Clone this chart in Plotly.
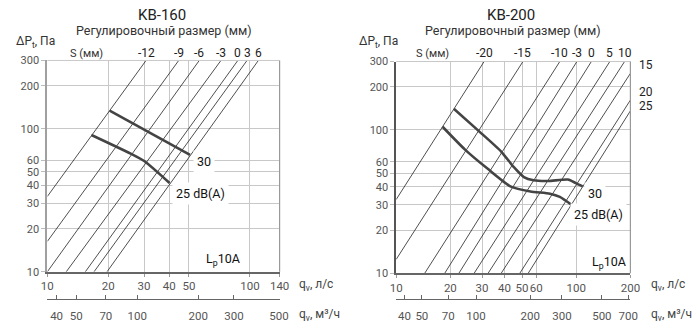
import math
import plotly.graph_objects as go

W, H = 700, 329
FONT = "Roboto"

# ---------------- KB-160 ----------------
kb160_q_ticks = [10, 20, 30, 40, 50, 100, 140]
kb160_m3h_ticks = [40, 50, 70, 100, 200, 300, 500]
kb160_s_labels = ["-12", "-9", "-6", "-3", "0", "3", "6"]
kb160_line_q0 = [10, 10, 10, 12.4, 15.4, 17.0, 19.7]
kb160_line_p0 = [33.6, 16.3, 10, 10, 10, 10, 10]
kb160_line_q1 = [30.7, 44.5, 56.2, 71.9, 87.1, 96.7, 110]
kb160_line_p1 = [300, 300, 300, 300, 300, 300, 300]
kb160_30_q = [20.3, 50.6]
kb160_30_p = [133.7, 65.7]
kb160_25_q = [16.5, 26.5, 30.2, 40.1]
kb160_25_p = [90.4, 65.7, 59.2, 41.7]

p_ticks = [10, 20, 30, 40, 50, 60, 100, 200, 300]

# ---------------- KB-200 ----------------
kb200_q_ticks = [10, 20, 30, 40, 50, 60, 100, 200]
kb200_m3h_ticks = [40, 50, 70, 100, 200, 300, 500, 700]
kb200_s_labels = ["-20", "-15", "-10", "-3", "0", "5", "10"]
kb200_side_labels = ["15", "20", "25"]
kb200_line_q0 = [10, 10, 14.4, 18.6, 22.3, 27.1, 32.4, 38.3, 48.6, 54.1]
kb200_line_p0 = [32.7, 12.5, 10, 10, 10, 10, 10, 10, 10, 10]
kb200_line_q1 = [30.8, 50.6, 81.1, 100.9, 121.4, 153.8, 185.7, 200, 200, 200]
kb200_line_p1 = [300, 300, 300, 300, 300, 300, 300, 248, 161.5, 135.8]
kb200_30_q = [20.9, 28.6, 38.3, 45.2, 51.2, 58.0, 70.0, 89.9, 99.4, 108.5]
kb200_30_p = [140.5, 98.9, 70.7, 54.7, 46.9, 44.5, 44.0, 45.1, 42.6, 40.4]
kb200_25_q = [18.1, 24.2, 32.4, 43.4, 55.7, 71.5, 81.1, 93.7]
kb200_25_p = [105.2, 72.6, 53.3, 40.2, 37.2, 35.9, 34.1, 30.2]

M3H_PER_LS = 3.6


def px(x, y):
    return x / W, 1 - y / H


L = dict(x0=42.3, x1=280.0, y0=56.7, y1=276.7)
R = dict(x0=399.3, x1=639.0, y0=57.8, y1=278.3)

fig = go.Figure()

line_style = dict(color="#222222", width=0.8)
curve_style = dict(color="#444444", width=2.6, shape="spline", smoothing=0.6)

for q0, p0, q1, p1 in zip(kb160_line_q0, kb160_line_p0, kb160_line_q1, kb160_line_p1):
    fig.add_trace(go.Scatter(x=[q0, q1], y=[p0, p1], mode="lines", line=line_style,
                             xaxis="x", yaxis="y", showlegend=False, hoverinfo="skip"))
fig.add_trace(go.Scatter(x=kb160_30_q, y=kb160_30_p, mode="lines", line=curve_style,
                         xaxis="x", yaxis="y", showlegend=False))
fig.add_trace(go.Scatter(x=kb160_25_q, y=kb160_25_p, mode="lines", line=curve_style,
                         xaxis="x", yaxis="y", showlegend=False))

for q0, p0, q1, p1 in zip(kb200_line_q0, kb200_line_p0, kb200_line_q1, kb200_line_p1):
    fig.add_trace(go.Scatter(x=[q0, q1], y=[p0, p1], mode="lines", line=line_style,
                             xaxis="x2", yaxis="y2", showlegend=False, hoverinfo="skip"))
fig.add_trace(go.Scatter(x=kb200_30_q, y=kb200_30_p, mode="lines", line=curve_style,
                         xaxis="x2", yaxis="y2", showlegend=False))
fig.add_trace(go.Scatter(x=kb200_25_q, y=kb200_25_p, mode="lines", line=curve_style,
                         xaxis="x2", yaxis="y2", showlegend=False))

fig.add_trace(go.Scatter(x=kb160_m3h_ticks, y=[None] * len(kb160_m3h_ticks), mode="lines",
                         xaxis="x3", yaxis="y", showlegend=False, hoverinfo="skip"))
fig.add_trace(go.Scatter(x=kb200_m3h_ticks, y=[None] * len(kb200_m3h_ticks), mode="lines",
                         xaxis="x4", yaxis="y2", showlegend=False, hoverinfo="skip"))

tickfont = dict(family=FONT, size=11.5, color="#555555")
ytickfont = dict(family=FONT, size=11, color="#555555")
grid = "#c8c8c8"


def xax(box, ticks, qmax):
    return dict(type="log", domain=[box["x0"] / W, box["x1"] / W],
                range=[1, math.log10(qmax)], tickvals=ticks, ticktext=[str(t) for t in ticks],
                tickangle=0,
                showgrid=True, gridcolor=grid, gridwidth=1,
                showline=True, linecolor="#666666", linewidth=1.5,
                ticks="outside", ticklen=3, tickcolor="#999999",
                tickfont=tickfont, fixedrange=True)


def yax(box, lc, lw):
    return dict(type="log", domain=[1 - box["y1"] / H, 1 - box["y0"] / H],
                range=[1, math.log10(300)], tickvals=p_ticks, ticktext=[str(t) for t in p_ticks],
                tickangle=0,
                showgrid=True, gridcolor=grid, gridwidth=1,
                showline=True, linecolor=lc, linewidth=lw,
                ticks="outside", ticklen=4, tickcolor="#bbbbbb",
                tickfont=ytickfont, fixedrange=True)


def x2ax(over, ticks, qmax):
    return dict(type="log", overlaying=over, anchor="free", position=1 - 305 / H, side="bottom",
                range=[math.log10(10 * M3H_PER_LS), math.log10(qmax * M3H_PER_LS)],
                tickvals=ticks, ticktext=[str(t) for t in ticks], showgrid=False, tickangle=0,
                showline=True, linecolor="#666666", linewidth=1.2,
                ticks="inside", ticklen=4, tickcolor="#666666",
                ticklabelstandoff=6, tickfont=tickfont, fixedrange=True)


fig.update_layout(
    width=W, height=H, margin=dict(l=0, r=0, t=0, b=0),
    paper_bgcolor="white", plot_bgcolor="white",
    xaxis=dict(anchor="y", **xax(L, kb160_q_ticks, 140)),
    yaxis=dict(anchor="x", **yax(L, "#a0a0a0", 2)),
    xaxis2=dict(anchor="y2", **xax(R, kb200_q_ticks, 200)),
    yaxis2=dict(anchor="x2", **yax(R, "#555555", 1.5)),
    xaxis3=x2ax("x", kb160_m3h_ticks, 140),
    xaxis4=x2ax("x2", kb200_m3h_ticks, 200),
    font=dict(family=FONT),
)

shapes = []
for xr, yr in (("x domain", "y domain"), ("x2 domain", "y2 domain")):
    shapes.append(dict(type="line", xref=xr, yref=yr, x0=0, x1=1, y0=1, y1=1,
                       line=dict(color=grid, width=1)))
    shapes.append(dict(type="line", xref=xr, yref=yr, x0=1, x1=1, y0=0, y1=1,
                       line=dict(color="#999999", width=1.2)))
fig.update_layout(shapes=shapes)

ann = []


def text(x, y, t, size=12, color="#222222", xanchor="center", **kw):
    xx, yy = px(x, y)
    ann.append(dict(x=xx, y=yy, xref="paper", yref="paper", text=t, showarrow=False,
                    xanchor=xanchor, yanchor="middle",
                    font=dict(family=FONT, size=size, color=color), **kw))


def dtext(xref, yref, q, p, t, size=12.5, **kw):
    ann.append(dict(x=math.log10(q), y=math.log10(p), xref=xref, yref=yref, text=t,
                    showarrow=False, xanchor="center", yanchor="middle",
                    font=dict(family=FONT, size=size, color="#111111"), **kw))


for cx, name in [(160, "KB-160"), (517, "KB-200")]:
    text(cx, 9, name, size=15, color="#222222")
    text(cx + 2, 26, "Регулировочный размер (мм)", size=12.5, color="#333333")

text(8, 38, "ΔP<sub>t</sub>, Па", size=12, color="#333333", xanchor="left")
text(359, 38, "ΔP<sub>t</sub>, Па", size=12, color="#333333", xanchor="left")
text(82.5, 49, "S (мм)", size=11, color="#333333")
text(436.5, 49, "S (мм)", size=11, color="#333333")

for q, lab in zip(kb160_line_q1, kb160_s_labels):
    ann.append(dict(x=math.log10(q), y=1 - 49 / H, xref="x", yref="paper", text=lab,
                    showarrow=False, xanchor="center", yanchor="middle",
                    font=dict(family=FONT, size=12, color="#222222")))
for q, lab in zip(kb200_line_q1[:7], kb200_s_labels):
    ann.append(dict(x=math.log10(q), y=1 - 49 / H, xref="x2", yref="paper", text=lab,
                    showarrow=False, xanchor="center", yanchor="middle",
                    font=dict(family=FONT, size=12, color="#222222")))
for yy, lab in zip([61.7, 89.3, 104.3], kb200_side_labels):
    text(646, yy, lab, size=12, color="#222222", xanchor="left")

dtext("x", "y", 59.6, 58.9, "30", bgcolor="white", borderpad=3)
dtext("x", "y", 56.8, 35.4, "25 dB(A)", bgcolor="white", borderpad=3)
dtext("x", "y", 73.5, 12.2, "L<sub>p</sub>10A")
dtext("x2", "y2", 127.6, 36.2, "30", bgcolor="white", borderpad=3)
dtext("x2", "y2", 133.0, 25.8, "25 dB(A)", bgcolor="white", borderpad=3)
dtext("x2", "y2", 152.0, 11.9, "L<sub>p</sub>10A")

for x0 in (297.7, 658):
    text(x0, 290.7, "q<sub>v</sub>, л/с", size=12, color="#444444", xanchor="left")
    text(x0, 321.7, "q<sub>v</sub>, м³/ч", size=12, color="#444444", xanchor="left")

fig.update_layout(annotations=ann)
fig.write_html("out.html")
